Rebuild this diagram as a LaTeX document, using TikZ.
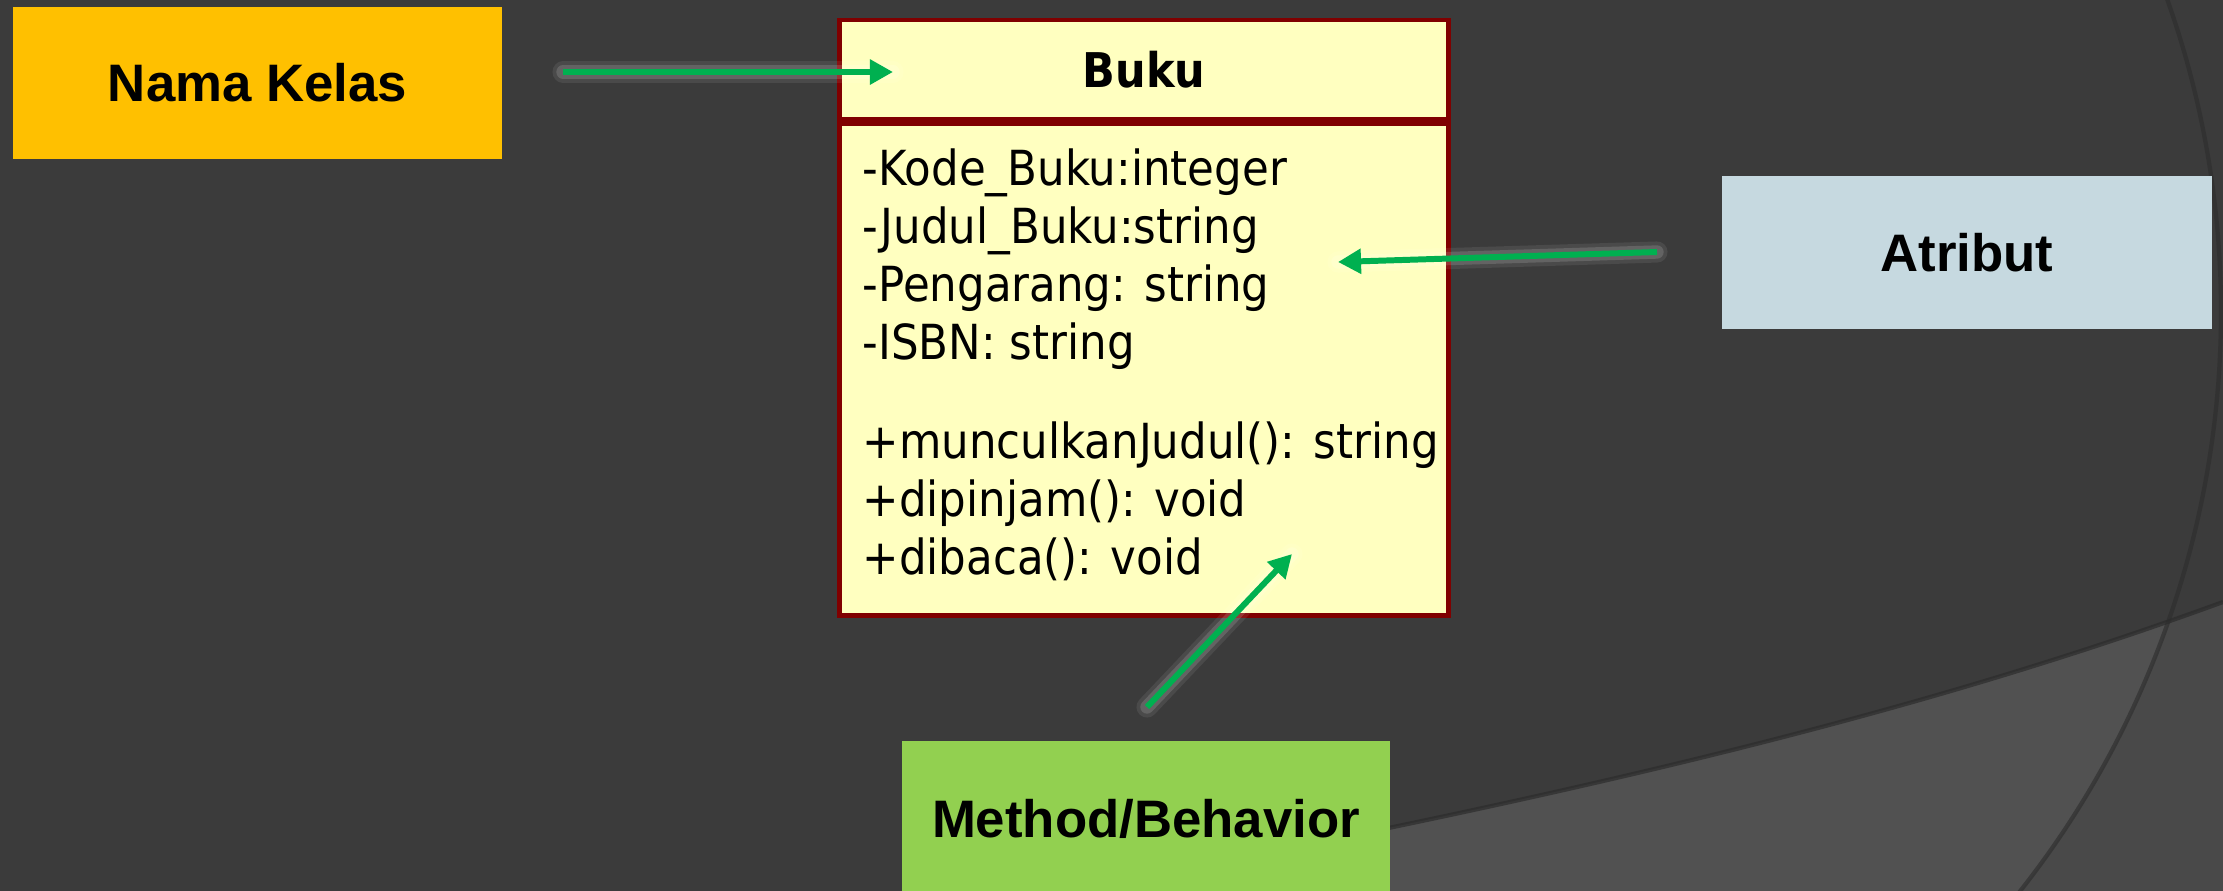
\documentclass[tikz,border=0pt]{standalone}
\usepackage{fontspec}
\usetikzlibrary{arrows.meta}
\newfontfamily\umlfont{DejaVu Sans}[FakeStretch=0.9]
\newfontfamily\labelfont{Liberation Sans}
\definecolor{bgC}{HTML}{3B3B3B}
\definecolor{bandC}{HTML}{515151}
\definecolor{bandoutC}{HTML}{494949}
\definecolor{edgeC}{HTML}{2C2C2C}
\definecolor{namaC}{HTML}{FFC000}
\definecolor{atribC}{HTML}{C6D9E0}
\definecolor{methodC}{HTML}{92D050}
\definecolor{umlfillC}{HTML}{FFFFC0}
\definecolor{umlborderC}{HTML}{800000}
\definecolor{pointerC}{HTML}{00B050}
\begin{document}
\begin{tikzpicture}[x=0.01cm, y=-0.01cm,
	labelbox/.style={inner sep=0pt, text=black, font={\labelfont\fontsize{15}{18}\selectfont\bfseries}},
	umlbox/.style={draw=umlborderC, fill=umlfillC, line width=1.4pt, inner sep=0pt, minimum width=6.08cm},
	member/.style={anchor=base west, inner sep=0pt, font={\umlfont\fontsize{13.75}{16.5}\selectfont}},
	glow/.style={line width=6pt, white, opacity=0.08, line cap=round},
	innerglow/.style={line width=3.8pt, white, opacity=0.14, line cap=round},
	pointer/.style={line width=1.7pt, pointerC, -{Triangle[length=0.23cm, width=0.24cm]}}]
	% background of the slide
	\useasboundingbox (0,0) rectangle (2223,890);
	\fill [bgC] (-20,-20) rectangle (2243,910);
	\begin{scope}
		\clip (1075,910) -- (1075,890) .. controls (1550,800) and (1900,720) .. (2223,602) -- (2243,602) -- (2243,910) -- cycle;
		\fill [bandoutC] (1000,560) rectangle (2243,910);
		\fill [bandC] (1286,312) circle [radius=935];
	\end{scope}
	\draw [edgeC, line width=1.2pt, opacity=0.7] (1075,890) .. controls (1550,800) and (1900,720) .. (2223,602);
	\draw [edgeC, line width=1.2pt, opacity=0.6] (1286,312) ++(-25:935) arc [start angle=-25, end angle=45, radius=935];
	% the three labels
	\node (namakelas) [labelbox, fill=namaC, minimum width=4.89cm, minimum height=1.52cm] at (257.5,83) {Nama Kelas};
	\node (atribut) [labelbox, fill=atribC, minimum width=4.90cm, minimum height=1.53cm] at (1967,252.5) {Atribut};
	\node (method) [labelbox, fill=methodC, minimum width=4.88cm, minimum height=1.56cm] at (1146,819) {Method/Behavior};
	% class Buku
	\node (bukuhead) [umlbox, minimum height=0.99cm, font={\umlfont\fontsize{13.6}{16}\selectfont\bfseries}] at (1144,69.5) {Buku};
	\node (bukubody) [umlbox, minimum height=4.91cm, anchor=north] at (bukuhead.south) {};
	\foreach \txt [count=\i] in {-Kode\_Buku:integer, -Judul\_Buku:string, -Pengarang: string, -ISBN: string}
		\node (attr\i) [member] at (862,127.4+58.1*\i) {\txt};
	\foreach \txt [count=\i] in {+munculkanJudul(): string, +dipinjam(): void, +dibaca(): void}
		\node (oper\i) [member] at (862,400+58*\i) {\txt};
	% arrows
	\coordinate (namaTail) at (563,72);
	\coordinate (namaTip) at (893,72);
	\coordinate (atribTail) at (1657,252);
	\coordinate (atribTip) at (1338,262);
	\coordinate (methodTail) at (1147,707);
	\coordinate (methodTip) at (1292,554);
	\draw [glow] (namaTail) -- (namaTip);
	\draw [glow] (atribTail) -- (atribTip);
	\draw [glow] (methodTail) -- (methodTip);
	\draw [innerglow] (namaTail) -- (namaTip);
	\draw [innerglow] (atribTail) -- (atribTip);
	\draw [innerglow] (methodTail) -- (methodTip);
	\draw [pointer] (namaTail) -- (namaTip);
	\draw [pointer] (atribTail) -- (atribTip);
	\draw [pointer] (methodTail) -- (methodTip);
\end{tikzpicture}
\end{document}
